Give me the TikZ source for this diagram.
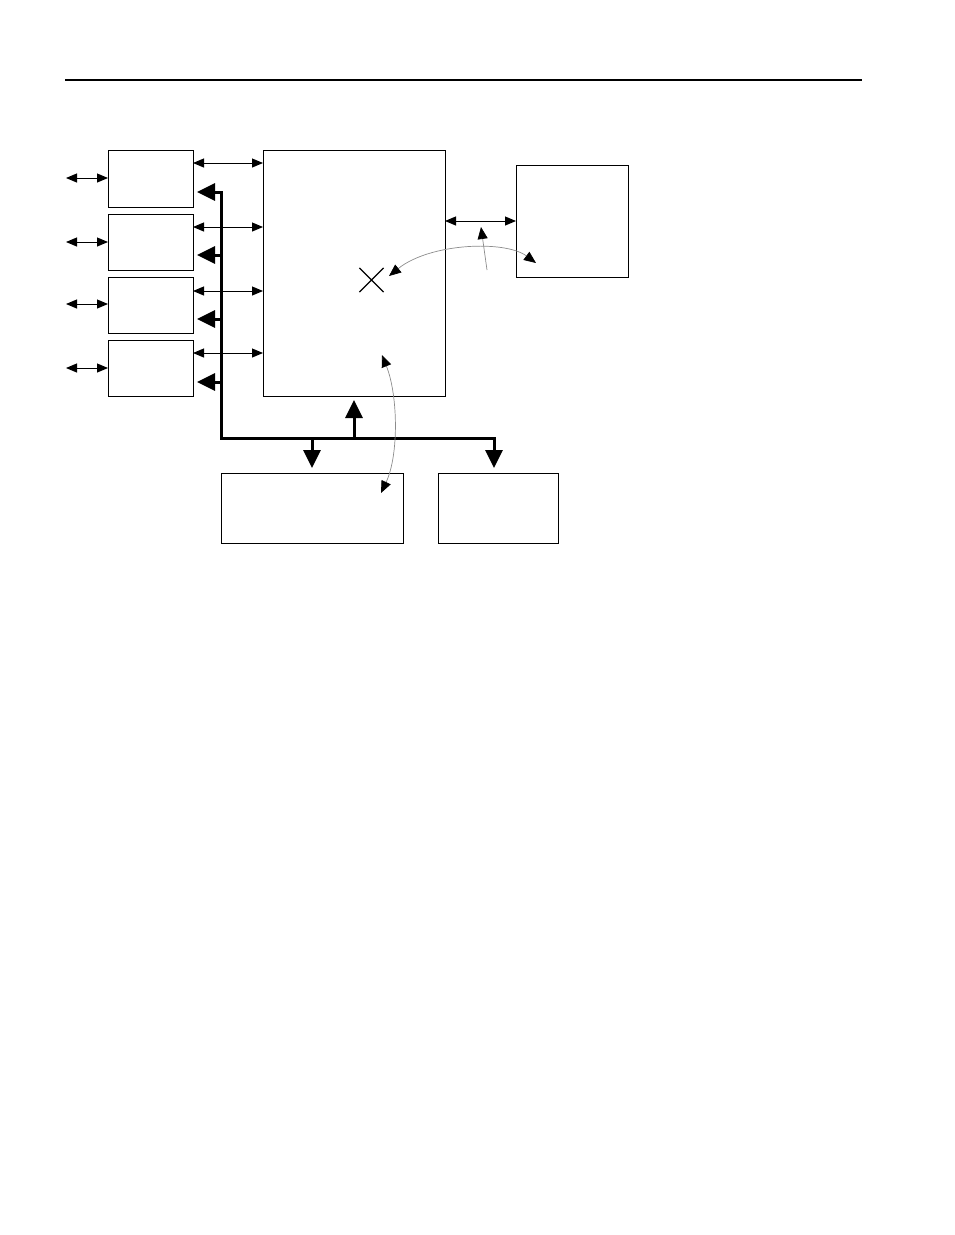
\documentclass[tikz,border=0pt]{standalone}
\usetikzlibrary{arrows.meta,shapes.misc}
\tikzset{
  box/.style={draw, line width=1pt, inner sep=0pt, outer sep=0pt},
  thinarr/.style={line width=1pt, {Triangle[length=11pt,width=9pt]}-{Triangle[length=11pt,width=9pt]}},
  bus/.style={line width=3pt, line join=miter},
  bushead/.style={-{Triangle[length=18pt,width=17pt]}},
  curvy/.style={line width=0.7pt, draw=black!45},
  ghead/.tip={Triangle[length=12pt,width=10pt,color=black]}
}
\begin{document}
\begin{tikzpicture}[x=1pt,y=-1pt]
\useasboundingbox (0,0) rectangle (954,1235);
% top rule
\coordinate (ruleL) at (65,80);
\coordinate (ruleR) at (862,80);
\draw[line width=1.3pt] (ruleL) -- (ruleR);

% boxes
\node[box, minimum width=85pt, minimum height=57pt] (s1) at (150.5,178.5) {};
\node[box, minimum width=85pt, minimum height=56pt] (s2) at (150.5,242) {};
\node[box, minimum width=85pt, minimum height=56pt] (s3) at (150.5,305) {};
\node[box, minimum width=85pt, minimum height=56pt] (s4) at (150.5,368) {};
\node[box, minimum width=182pt, minimum height=246pt] (big) at (354,273) {};
\node[box, minimum width=112pt, minimum height=112pt] (rb) at (572,221) {};
\node[box, minimum width=182pt, minimum height=70pt] (ba) at (312,508) {};
\node[box, minimum width=120pt, minimum height=70pt] (bb) at (498,508) {};
\node[cross out, draw, line width=1.2pt, minimum size=23pt, inner sep=0pt] (xm) at (371.5,280) {};

% left free arrows
\coordinate (l1) at (66,178);
\coordinate (l2) at (66,242);
\coordinate (l3) at (66,304);
\coordinate (l4) at (66,368);
\draw[thinarr] (l1) -- (s1.west |- l1);
\draw[thinarr] (l2) -- (s2.west |- l2);
\draw[thinarr] (l3) -- (s3.west |- l3);
\draw[thinarr] (l4) -- (s4.west |- l4);

% small boxes to big box
\coordinate (h1) at (0,163);
\coordinate (h2) at (0,227);
\coordinate (h3) at (0,291);
\coordinate (h4) at (0,353);
\draw[thinarr] (s1.east |- h1) -- (big.west |- h1);
\draw[thinarr] (s2.east |- h2) -- (big.west |- h2);
\draw[thinarr] (s3.east |- h3) -- (big.west |- h3);
\draw[thinarr] (s4.east |- h4) -- (big.west |- h4);

% big box to right box
\coordinate (hr) at (0,221);
\draw[thinarr] (big.east |- hr) -- (rb.west |- hr);

% bus
\coordinate (bt) at (221,192);
\coordinate (bc) at (221,438);
\coordinate (br) at (494,438);
\draw[bus, {Triangle[length=18pt,width=17pt]}-{Triangle[length=18pt,width=17pt]}, shorten <=4pt, shorten >=5pt]
  (s1.east |- bt) -- (bt) -- (bc) -- (br) -- (bb.north -| br);
\coordinate (j2) at (221,255);
\coordinate (j3) at (221,319);
\coordinate (j4) at (221,382);
\draw[bus, bushead, shorten >=4pt] (j2) -- (s2.east |- j2);
\draw[bus, bushead, shorten >=4pt] (j3) -- (s3.east |- j3);
\draw[bus, bushead, shorten >=4pt] (j4) -- (s4.east |- j4);
\coordinate (ju) at (354,438);
\draw[bus, bushead, shorten >=4pt] (ju) -- (big.south -| ju);
\coordinate (jd) at (312,438);
\draw[bus, bushead, shorten >=5pt] (jd) -- (ba.north -| jd);

% gray curved arrows
\coordinate (c1a) at (389,276);
\coordinate (c1b) at (536,263);
\draw[curvy, ghead-ghead] (c1a) .. controls (430,243) and (505,240) .. (c1b);
\coordinate (c2a) at (487,270);
\coordinate (c2b) at (481,227);
\draw[curvy, -ghead] (c2a) -- (c2b);
\coordinate (c3a) at (382,355);
\coordinate (c3b) at (381,493);
\draw[curvy, ghead-ghead] (c3a) .. controls (398,395) and (399,455) .. (c3b);
\end{tikzpicture}
\end{document}
